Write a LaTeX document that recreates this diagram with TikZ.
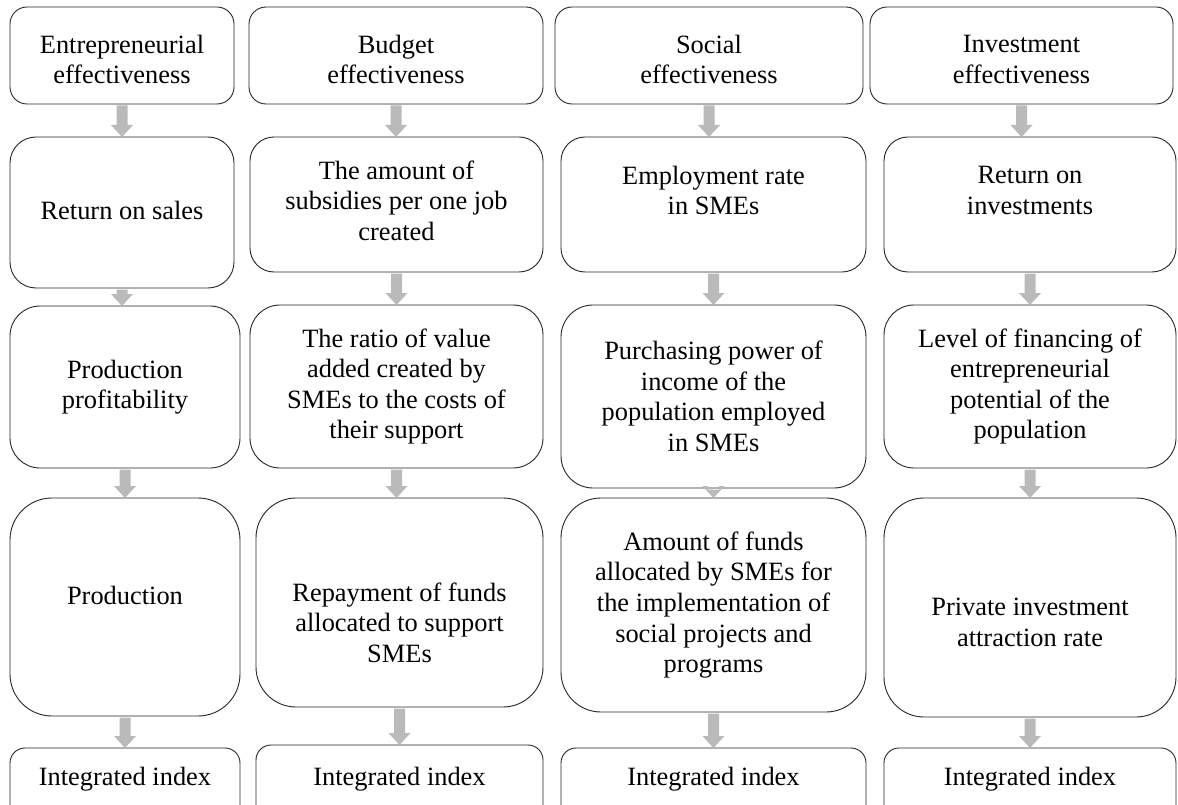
\documentclass[tikz,border=0pt]{standalone}
\usepackage{fontspec}
\setmainfont{Liberation Serif}
\usetikzlibrary{calc}
\tikzset{
  boxshape/.style={draw=black!85, line width=0.9pt, fill=white,
    inner sep=0pt, outer sep=0pt},
  txt/.style={align=center, inner sep=0pt, font=\fontsize{26.4}{30.6}\selectfont},
  flowc/.style={fill=black!27}
}
% \mkbox[dy]{name}{x1}{y1}{x2}{y2}{radius}{text}
\newcommand\mkbox[8][0]{%
  \node[boxshape, rounded corners=#7, minimum width={#5-#3}, minimum height={#6-#4}]
    (#2) at ({(#3+#5)/2},{(#4+#6)/2}) {};
  \node[txt] (#2t) at ($(#2.center)+(0,#1)$) {#8};}
\newcommand\flowarrow[2]{%
  \path (#1.south) coordinate (s) (#1.south |- #2.north) coordinate (e);
  \fill[flowc] ($(s)+(-5.5,1.5)$) -- ($(e)+(-5.5,-12)$) -- ($(e)+(-11,-12)$) -- (e)
     -- ($(e)+(11,-12)$) -- ($(e)+(5.5,-12)$) -- ($(s)+(5.5,1.5)$) -- cycle;}
\begin{document}
\begin{tikzpicture}[x=1pt,y=-1pt]
\useasboundingbox (0,0) rectangle (1178,805);
\clip (0,0) rectangle (1178,805);
% column 1
\mkbox[4]{c1r1}{10}{7}{234}{104}{17}{Entrepreneurial\\effectiveness}
\mkbox[-2]{c1r2}{10}{137}{234}{288}{26}{Return on sales}
\mkbox{c1r3}{10}{306}{240}{468}{30}{Production\\profitability}
\mkbox[-12]{c1r4}{10}{498}{240}{716}{42}{Production}
\mkbox[-14]{c1r5}{10}{748}{240}{838}{15}{Integrated index}
% column 2
\mkbox[4]{c2r1}{249}{7}{543}{104}{17}{Budget\\effectiveness}
\mkbox[-4]{c2r2}{250}{137}{543}{272}{24}{The amount of\\subsidies per one job\\created}
\mkbox{c2r3}{250}{305}{543}{468}{30}{The ratio of value\\added created by\\SMEs to the costs of\\their support}
\mkbox[20]{c2r4}{256}{498}{543}{707}{40}{Repayment of funds\\allocated to support\\SMEs}
\mkbox[-11]{c2r5}{256}{745}{543}{835}{15}{Integrated index}
% column 3
\mkbox[4]{c3r1}{555}{7}{863}{104}{17}{Social\\effectiveness}
\mkbox[-14]{c3r2}{561}{137}{866}{272}{24}{Employment rate\\in SMEs}
\mkbox{c3r3}{561}{305}{866}{488}{32}{Purchasing power of\\income of the\\population employed\\in SMEs}
\mkbox{c3r4}{561}{498}{866}{712}{40}{Amount of funds\\allocated by SMEs for\\the implementation of\\social projects and\\programs}
\mkbox[-14]{c3r5}{561}{748}{866}{838}{15}{Integrated index}
% column 4
\mkbox[4]{c4r1}{870}{7}{1173}{104}{17}{Investment\\effectiveness}
\mkbox[-14]{c4r2}{884}{137}{1176}{272}{24}{Return on\\investments}
\mkbox{c4r3}{884}{305}{1176}{468}{30}{Level of financing of\\entrepreneurial\\potential of the\\population}
\mkbox[15]{c4r4}{884}{498}{1176}{717}{40}{Private investment\\attraction rate}
\mkbox[-14]{c4r5}{884}{748}{1176}{838}{15}{Integrated index}
% arrows
\foreach \c in {1,2,3,4}{
  \flowarrow{c\c r1}{c\c r2}
  \flowarrow{c\c r2}{c\c r3}
  \flowarrow{c\c r3}{c\c r4}
  \flowarrow{c\c r4}{c\c r5}
}
\end{tikzpicture}
\end{document}
